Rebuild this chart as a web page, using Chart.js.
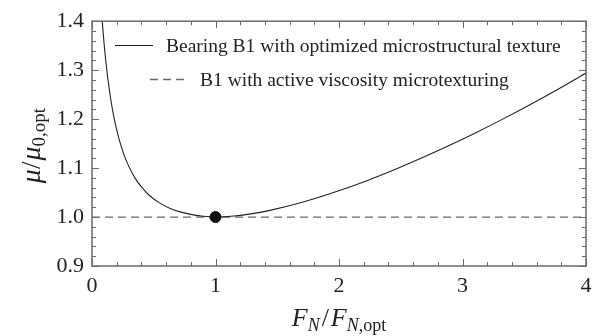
<!DOCTYPE html>
<html>
<head>
<meta charset="utf-8">
<script src="https://cdn.jsdelivr.net/npm/chart.js@4.4.0/dist/chart.umd.min.js"></script>
<style>
  html, body { margin: 0; padding: 0; background: #fff; }
</style>
</head>
<body>
<canvas id="chart" width="603" height="336"></canvas>
<script>
// Friction ratio vs. normal load ratio, bearing B1
const loadRatio     = [0.083, 0.100, 0.115, 0.135, 0.156, 0.178, 0.216, 0.255, 0.297, 0.350, 0.405, 0.470, 0.540, 0.648, 0.790, 0.900, 1.000, 1.150, 1.300, 1.440, 1.710, 1.980, 2.220, 2.467, 2.700, 2.900, 3.100, 3.330, 3.550, 3.763, 4.000];
const frictionRatio = [1.400, 1.348, 1.311, 1.270, 1.234, 1.203, 1.162, 1.130, 1.104, 1.079, 1.060, 1.043, 1.030, 1.016, 1.006, 1.0015, 1.000, 1.002, 1.007, 1.0136, 1.0306, 1.052, 1.0738, 1.0987, 1.1241, 1.1471, 1.1713, 1.2005, 1.2298, 1.2594, 1.294];
const activeLoad     = [0, 4];
const activeFriction = [1.0, 1.0];
const optimumPoint   = { x: 1, y: 1 };

const xTickValues = [0, 1, 2, 3, 4];
const yTickValues = [0.9, 1.0, 1.1, 1.2, 1.3, 1.4];
const xMinorStep = 0.2;
const yMinorStep = 0.02;

const legendLabels = [
  'Bearing B1 with optimized microstructural texture',
  'B1 with active viscosity microtexturing'
];

const SERIF = '"Liberation Serif", "Times New Roman", serif';
const FRAME = '#6a6a6a';

// draw a list of [text, font, baselineShift, gapAfter] runs left to right
function drawRuns(ctx, runs, x, y) {
  let cx = x;
  runs.forEach(([t, font, dy, gap]) => {
    ctx.font = font;
    ctx.fillText(t, cx, y + (dy || 0));
    cx += ctx.measureText(t).width + (gap || 0);
  });
  return cx - x;
}
function runsWidth(ctx, runs) {
  let w = 0;
  runs.forEach(([t, font, dy, gap]) => { ctx.font = font; w += ctx.measureText(t).width + (gap || 0); });
  return w;
}

const decorations = {
  id: 'decorations',
  afterDraw(chart) {
    const { ctx, chartArea: a, scales: { x, y } } = chart;
    ctx.save();

    // inner ticks on all four sides
    ctx.strokeStyle = FRAME;
    ctx.lineWidth = 1;
    ctx.beginPath();
    const nx = Math.round((x.max - x.min) / xMinorStep);
    for (let i = 0; i <= nx; i++) {
      const v = x.min + i * xMinorStep;
      const px = Math.round(x.getPixelForValue(v)) + 0.5;
      const len = i % 5 === 0 ? 7 : 4;
      ctx.moveTo(px, a.bottom); ctx.lineTo(px, a.bottom - len);
      ctx.moveTo(px, a.top); ctx.lineTo(px, a.top + len);
    }
    const ny = Math.round((y.max - y.min) / yMinorStep);
    for (let i = 0; i <= ny; i++) {
      const v = y.min + i * yMinorStep;
      const py = Math.round(y.getPixelForValue(v)) + 0.5;
      const len = i % 5 === 0 ? 7 : 4;
      ctx.moveTo(a.left, py); ctx.lineTo(a.left + len, py);
      ctx.moveTo(a.right, py); ctx.lineTo(a.right - len, py);
    }
    ctx.stroke();

    // frame
    ctx.lineWidth = 1.5;
    ctx.strokeRect(a.left, a.top, a.right - a.left, a.bottom - a.top);

    // legend
    ctx.fillStyle = '#222';
    ctx.textBaseline = 'alphabetic';
    ctx.strokeStyle = '#222';
    ctx.lineWidth = 1;
    ctx.beginPath();
    ctx.moveTo(115, 45.5); ctx.lineTo(153, 45.5);
    ctx.stroke();
    ctx.strokeStyle = FRAME;
    ctx.lineWidth = 1.3;
    ctx.setLineDash([8, 5]);
    ctx.beginPath();
    ctx.moveTo(150, 79.5); ctx.lineTo(185, 79.5);
    ctx.stroke();
    ctx.setLineDash([]);
    ctx.font = '19.5px ' + SERIF;
    ctx.fillText(legendLabels[0], 166, 52);
    ctx.fillText(legendLabels[1], 200, 86);

    // x axis title: F_N / F_N,opt
    const big = 'italic 26px ' + SERIF;
    const subI = 'italic 18px ' + SERIF;
    const subR = '18px ' + SERIF;
    const bigR = '26px ' + SERIF;
    const xRuns = [['F', big, 0, 0], ['N', subI, 5, 2], ['/', bigR, 0, 2], ['F', big, 0, 0], ['N', subI, 5, 0], [',opt', subR, 5, 0]];
    const xw = runsWidth(ctx, xRuns);
    drawRuns(ctx, xRuns, (a.left + a.right) / 2 - xw / 2, 326);

    // y axis title: mu / mu_0,opt
    const muFont = 'italic 28px ' + SERIF;
    const yRuns = [['μ', muFont, 0, 0], ['/', '27px ' + SERIF, 0, 1], ['μ', muFont, 0, 0], ['0,opt', '19px ' + SERIF, 5, 0]];
    const yw = runsWidth(ctx, yRuns);
    ctx.translate(40, (a.top + a.bottom) / 2 + 2);
    ctx.rotate(-Math.PI / 2);
    drawRuns(ctx, yRuns, -yw / 2, 0);

    ctx.restore();
  }
};

new Chart(document.getElementById('chart'), {
  type: 'scatter',
  data: {
    datasets: [
      {
        label: 'optimum',
        data: [optimumPoint],
        pointRadius: 5.5,
        pointBackgroundColor: '#111',
        pointBorderColor: '#111',
        order: 0
      },
      {
        label: legendLabels[0],
        data: loadRatio.map((v, i) => ({ x: v, y: frictionRatio[i] })),
        showLine: true,
        borderColor: '#222',
        borderWidth: 1.1,
        pointRadius: 0,
        cubicInterpolationMode: 'monotone',
        order: 1
      },
      {
        label: legendLabels[1],
        data: activeLoad.map((v, i) => ({ x: v, y: activeFriction[i] })),
        showLine: true,
        borderColor: FRAME,
        borderWidth: 1.3,
        borderDash: [8, 5],
        pointRadius: 0,
        order: 2
      }
    ]
  },
  options: {
    responsive: false,
    animation: false,
    devicePixelRatio: 1,
    layout: { padding: { top: 18, right: 17, left: 0, bottom: 0 } },
    plugins: { legend: { display: false }, tooltip: { enabled: false } },
    scales: {
      x: {
        type: 'linear',
        min: 0, max: 4,
        afterBuildTicks: s => { s.ticks = xTickValues.map(v => ({ value: v })); },
        afterFit: s => { s.height = 70; },
        grid: { display: false, drawTicks: false },
        border: { display: false },
        ticks: {
          padding: 7,
          color: '#222',
          font: { family: SERIF, size: 22 },
          callback: v => String(v)
        }
      },
      y: {
        type: 'linear',
        min: 0.9, max: 1.4,
        afterBuildTicks: s => { s.ticks = yTickValues.map(v => ({ value: v })); },
        afterFit: s => { s.width = 92; },
        grid: { display: false, drawTicks: false },
        border: { display: false },
        ticks: {
          padding: 8,
          color: '#222',
          font: { family: SERIF, size: 22 },
          callback: v => Number(v).toFixed(1)
        }
      }
    }
  },
  plugins: [decorations]
});
</script>
</body>
</html>
